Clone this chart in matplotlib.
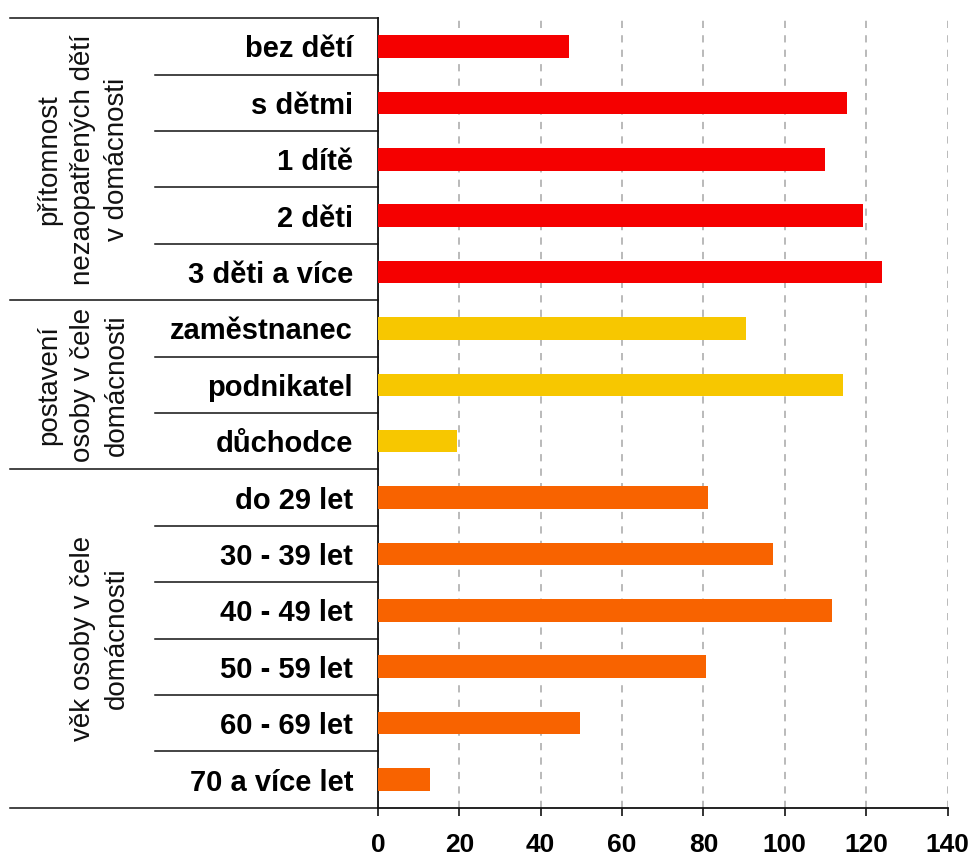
import matplotlib.pyplot as plt
from matplotlib.transforms import blended_transform_factory

# kategorie domácností a hodnoty (shora dolů v pořadí tabulky)
kategorie = ["bez dětí", "s dětmi", "1 dítě", "2 děti", "3 děti a více",
             "zaměstnanec", "podnikatel", "důchodce",
             "do 29 let", "30 - 39 let", "40 - 49 let", "50 - 59 let",
             "60 - 69 let", "70 a více let"]
hodnoty = [47.0, 115.3, 110.0, 119.2, 123.8,
           90.4, 114.2, 19.4,
           81.2, 97.1, 111.5, 80.6, 49.7, 12.9]

skupiny = ["přítomnost\nnezaopatřených dětí\nv domácnosti",
           "postavení\nosoby v čele\ndomácnosti",
           "věk osoby v čele\ndomácnosti"]
pocty = [5, 3, 6]
barvy_skupin = ["#f50000", "#f7c700", "#f86300"]
osa_x = [0, 20, 40, 60, 80, 100, 120, 140]

plt.rcParams['font.family'] = ['Liberation Sans', 'DejaVu Sans']

W, H = 972, 858
fig = plt.figure(figsize=(W / 100, H / 100), dpi=100)
ax = fig.add_axes([378 / W, 1 - 807.7 / H, (947.5 - 378) / W, (807.7 - 18.3) / H])

barvy = []
for b, n in zip(barvy_skupin, pocty):
    barvy += [b] * n

y = list(range(len(kategorie)))
ax.barh(y, hodnoty, height=0.40, color=barvy, zorder=3)

ax.set_xlim(0, 140)
ax.set_ylim(len(kategorie) - 0.5, -0.5)
ax.set_xticks(osa_x)
ax.set_xticklabels([str(v) for v in osa_x], fontsize=19, fontweight='bold')
ax.set_yticks(y)
ax.set_yticklabels(kategorie, fontsize=21, fontweight='bold')
ax.tick_params(axis='y', length=0, pad=18)
ax.tick_params(axis='x', length=6, width=1.2, direction='out', pad=12, color='#111111')

ax.set_axisbelow(True)
ax.grid(axis='x', color='#b4b4b4', linewidth=1.3, linestyle=(0, (4, 4)))
ax.grid(axis='y', visible=False)

for s in ['top', 'right']:
    ax.spines[s].set_visible(False)
for s in ['left', 'bottom']:
    ax.spines[s].set_linewidth(1.3)
    ax.spines[s].set_color('#111111')

# tabulka vlevo od osy: oddělovače řádků a skupin
tr = blended_transform_factory(fig.transFigure, ax.transData)
hranice = [0]
for n in pocty:
    hranice.append(hranice[-1] + n)
for k in range(len(kategorie) + 1):
    x0 = 10 / W if k in hranice else 155 / W
    ax.plot([x0, 378 / W], [k - 0.5, k - 0.5], transform=tr, color='#111111',
            linewidth=1.1, clip_on=False, zorder=4)

# popisky skupin (svisle)
for i, text in enumerate(skupiny):
    stred = (hranice[i] + hranice[i + 1]) / 2 - 0.5
    ax.text(130 / W, stred, text, transform=tr, rotation=90, ha='right',
            va='center', multialignment='center', fontsize=20,
            linespacing=1.4, color='#111111')

fig.savefig("out.png", dpi=100, facecolor='white')
